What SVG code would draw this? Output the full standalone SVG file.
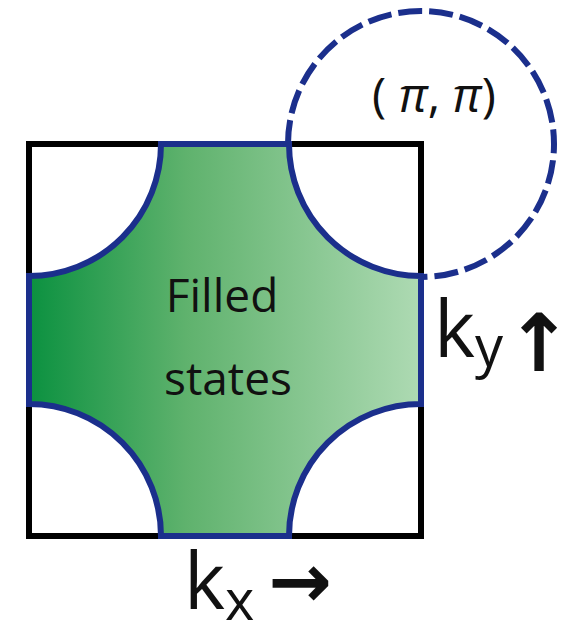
<svg xmlns="http://www.w3.org/2000/svg" width="562" height="624" viewBox="0 0 562 624">
<defs>
<linearGradient id="g" x1="29" y1="0" x2="421" y2="0" gradientUnits="userSpaceOnUse">
<stop offset="0" stop-color="#0b9140"/>
<stop offset="0.4" stop-color="#5fb26d"/>
<stop offset="1" stop-color="#aedab3"/>
</linearGradient>
<style>
.lbl{font-family:"Open Sans","Noto Sans",sans-serif;fill:#111}
.arr{font-family:"DejaVu Sans",sans-serif;font-weight:bold;fill:#111}
.blue{fill:none;stroke:#1b2f8c;stroke-width:6}
</style>
</defs>
<rect width="562" height="624" fill="#fff"/>
<g id="zone-boundary">
<path class="blue" d="M 288 144 A 133 133 0 1 1 421 277" stroke-dasharray="24 7"/>
</g>
<g id="brillouin-zone">
<rect x="29" y="144" width="392" height="392" fill="#fff" stroke="#000" stroke-width="6"/>
</g>
<g id="filled-states">
<path d="M 161 144 L 289 144 A 132 132 0 0 0 421 276 L 421 404 A 132 132 0 0 0 289 536 L 161 536 A 132 132 0 0 0 29 404 L 29 276 A 132 132 0 0 0 161 144 Z" fill="url(#g)" stroke="#1b2f8c" stroke-width="6" stroke-linejoin="miter"/>
<text class="lbl" x="222" y="312" font-size="46" text-anchor="middle">Filled</text>
<text class="lbl" x="228" y="395" font-size="46" text-anchor="middle">states</text>
</g>
<g id="pi-label">
<text class="lbl" x="372" y="112" font-size="48">( <tspan font-style="italic">π</tspan>, <tspan font-style="italic">π</tspan>)</text>
</g>
<g id="ky-label">
<text class="lbl" x="434" y="357" font-size="78">k<tspan font-size="56" dy="9">y</tspan></text>
<text class="arr" x="539" y="371" font-size="80" text-anchor="middle">↑</text>
</g>
<g id="kx-label">
<text class="lbl" x="184" y="609" font-size="78">k<tspan font-size="56" dy="11">x</tspan></text>
<text class="arr" x="300" y="607" font-size="76" text-anchor="middle">→</text>
</g>
</svg>
